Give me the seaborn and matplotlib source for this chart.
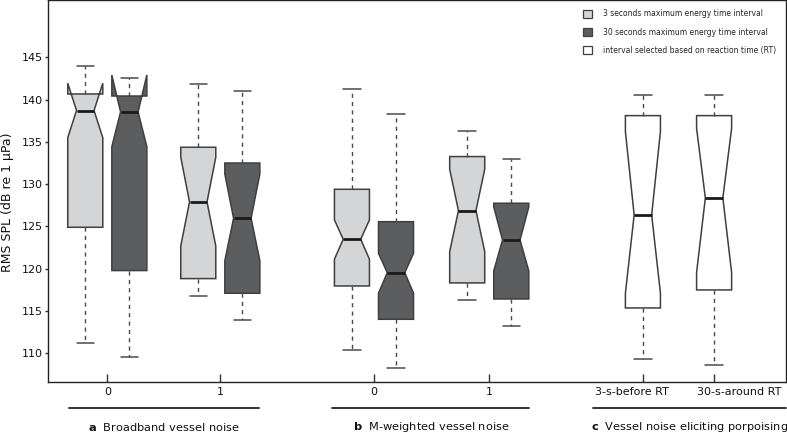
import matplotlib
matplotlib.use("Agg")
import matplotlib.pyplot as plt
import matplotlib.transforms as mtransforms
from matplotlib.patches import Patch
import seaborn as sns

# ---------------- data ----------------
groups = ["a", "b", "c"]
group_titles = ["Broadband vessel noise", "M-weighted vessel noise",
                "Vessel noise eliciting porpoising"]
tick_labels = ["0", "1", "0", "1", "3-s-before RT", "30-s-around RT"]
series = ["3s", "30s", "3s", "30s", "3s", "30s", "3s", "30s", "RT", "RT"]

whishi = [144.0, 142.56, 141.88, 141.02, 141.22, 138.26, 136.29, 133.02, 140.5, 140.5]
q3     = [140.66, 140.42, 134.36, 132.5, 129.39, 125.56, 133.26, 127.74, 138.1, 138.1]
cihi   = [141.93, 142.9, 133.18, 131.2, 125.77, 121.82, 131.76, 127.3, 136.21, 136.6]
med    = [138.7, 138.53, 127.89, 125.96, 123.48, 119.53, 126.87, 123.4, 126.36, 128.37]
cilo   = [135.5, 134.43, 122.69, 120.95, 121.12, 117.1, 122.02, 119.74, 117.1, 119.54]
q1     = [124.9, 119.78, 118.83, 117.1, 117.96, 114.02, 118.32, 116.42, 115.36, 117.49]
whislo = [111.25, 109.6, 116.78, 113.94, 110.43, 108.23, 116.34, 113.23, 109.29, 108.62]

legend_labels = ["3 seconds maximum energy time interval",
                 "30 seconds maximum energy time interval",
                 "interval selected based on reaction time (RT)"]

# ---------------- layout ----------------
tick_pos = [0.0, 1.0, 2.36, 3.38, 4.74, 5.37]
label_shift_px = [0, 0, 0, 0, -11, 25]
dodge = 0.195
box_pos = [tick_pos[0] - dodge, tick_pos[0] + dodge,
           tick_pos[1] - dodge, tick_pos[1] + dodge,
           tick_pos[2] - dodge, tick_pos[2] + dodge,
           tick_pos[3] - dodge, tick_pos[3] + dodge,
           tick_pos[4], tick_pos[5]]
group_spans = [(-0.336, 1.345), (1.991, 3.735), (4.301, 6.01)]
colors = {"3s": "#d4d5d6", "30s": "#5c5d5f", "RT": "#ffffff"}
edge = "#3f3f3f"

sns.set_style("ticks")
plt.rcParams["font.family"] = ["DejaVu Sans"]

fig = plt.figure(figsize=(7.87, 4.34), dpi=100)
ax = fig.add_axes([0.0614, 0.1205, 0.937, 0.8785])

stats = []
for i in range(len(med)):
    stats.append(dict(med=med[i], q1=q1[i], q3=q3[i], whislo=whislo[i],
                      whishi=whishi[i], cilo=cilo[i], cihi=cihi[i], fliers=[]))

bp = ax.bxp(stats, positions=box_pos, widths=0.31, shownotches=True,
            patch_artist=True, showfliers=False, capwidths=0.155,
            boxprops=dict(edgecolor=edge, linewidth=1.1),
            medianprops=dict(color="#1a1a1a", linewidth=2.0),
            whiskerprops=dict(color="#4a4a4a", linewidth=1.0, linestyle=(0, (3, 3))),
            capprops=dict(color="#4a4a4a", linewidth=1.1))
for patch, s in zip(bp["boxes"], series):
    patch.set_facecolor(colors[s])

ax.set_xlim(-0.522, 6.004)
ax.set_ylim(106.64, 151.72)
ax.set_yticks([110, 115, 120, 125, 130, 135, 140, 145])
ax.set_xticks(tick_pos)
ax.set_xticklabels(tick_labels)
ax.tick_params(axis="x", direction="in", length=6, width=1, pad=4,
               labelsize=8, colors="#333333", labelcolor="#111111")
ax.tick_params(axis="y", direction="out", length=2.5, width=1, pad=1.5,
               labelsize=8, colors="#333333", labelcolor="#111111")
for lab, dx in zip(ax.get_xticklabels(), label_shift_px):
    if dx:
        lab.set_transform(lab.get_transform() +
                          mtransforms.ScaledTranslation(dx / 100, 0, fig.dpi_scale_trans))
for sp in ax.spines.values():
    sp.set_visible(True)
    sp.set_color("#222222")
    sp.set_linewidth(1.0)

ax.set_ylabel("RMS SPL (dB re 1 µPa)", fontsize=9, color="#111111")
ax.yaxis.set_label_coords(-0.046, 0.47)

# group underlines and titles
trans = ax.get_xaxis_transform()
for g, title, (x0, x1) in zip(groups, group_titles, group_spans):
    ax.plot([x0, x1], [-0.0698, -0.0698], transform=trans, color="#222222",
            linewidth=1.3, clip_on=False)
    ax.text((x0 + x1) / 2, -0.119, r"$\bf{" + g + "}$  " + title,
            transform=trans, ha="center", va="center", fontsize=8.2,
            color="#111111", clip_on=False)

handles = [Patch(facecolor=colors[k], edgecolor=edge, linewidth=0.9)
           for k in ["3s", "30s", "RT"]]
ax.legend(handles, legend_labels, loc="upper left",
          bbox_to_anchor=(582.7 / 787, 1 - 9.5 / 434),
          bbox_transform=fig.transFigure, frameon=False, fontsize=5.5,
          handlelength=1.2, handleheight=1.3, handletextpad=1.5,
          labelspacing=1.2, borderpad=0, borderaxespad=0)

fig.savefig("out.png", dpi=100)
